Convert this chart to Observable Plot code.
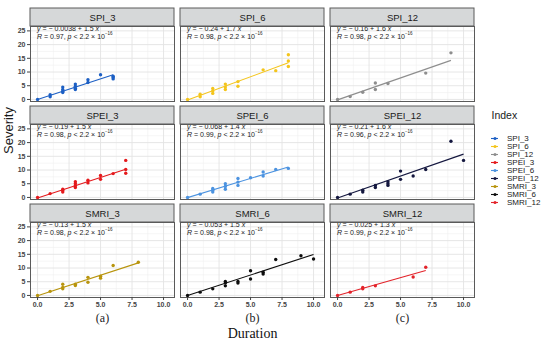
<!DOCTYPE html>
<html><head><meta charset="utf-8">
<script src="https://cdn.jsdelivr.net/npm/d3@7"></script>
<script src="https://cdn.jsdelivr.net/npm/@observablehq/plot@0.6"></script>
<style>
body{margin:0;background:#fff;}
#wrap{position:relative;width:550px;height:343px;}
#wrap svg{position:absolute;}
g[aria-label="x-axis tick label"] text, g[aria-label="y-axis tick label"] text{font-weight:bold;}
</style></head><body><div id="wrap"></div>
<script>
const indexNames = ["SPI_3","SPI_6","SPI_12","SPEI_3","SPEI_6","SPEI_12","SMRI_3","SMRI_6","SMRI_12"];
const indexColors = ["#1c5fc4","#f4c51c","#8e8e8e","#e4191c","#4c93e0","#14173f","#b8940d","#0d0d0d","#e3232a"];
const columnLabels = ["(a)","(b)","(c)"];
const rowLabels = ["SPI","SPEI","SMRI"];
const intercepts = [-0.0038,-0.24,-0.16,-0.19,-0.068,-0.21,-0.13,-0.053,-0.025];
const slopes = [1.5,1.7,1.6,1.5,1.4,1.6,1.5,1.5,1.3];
const rValues = [0.97,0.98,0.98,0.98,0.99,0.96,0.98,0.98,0.99];
const xTicks = [0,2.5,5,7.5,10];
const xMinor = [1.25,3.75,6.25,8.75];
const yTicks = [0,5,10,15,20,25];
const yMinor = [2.5,7.5,12.5,17.5,22.5];
const xDomain = [-0.56,10.87];
const yDomain = [-0.75,26.6];

const spi3Duration = [0,1,1,2,2,2,2,3,3,3,3,4,4,5,6,6,6];
const spi3Severity = [0,1.0,1.7,2.5,3.0,3.6,4.5,3.6,4.1,4.8,5.6,6.2,7.2,9.0,7.5,8.0,8.5];
const spi6Duration = [0,1,1,2,2,2,3,3,3,4,4,6,7,8,8,8];
const spi6Severity = [0,1.0,1.9,2.2,3.1,4.0,3.6,4.5,5.6,6.5,4.8,10.8,10.5,16.3,14.0,12.0];
const spi12Duration = [0,1,2,3,3,4,7,9];
const spi12Severity = [0,1.1,2.6,6.0,3.6,5.8,9.6,17.0];
const spei3Duration = [0,1,2,2,2,3,3,3,3,4,4,5,5,6,7,7,7];
const spei3Severity = [0,1.4,2.0,2.5,3.0,3.6,4.3,5.0,5.7,5.3,6.3,6.6,8.0,8.7,13.5,10.2,8.8];
const spei6Duration = [0,1,2,2,2,3,3,3,4,4,4,5,6,6,7,8];
const spei6Severity = [0,1.2,2.0,2.6,3.3,3.0,4.0,5.0,4.4,5.6,6.9,7.2,7.8,9.3,10.2,10.6];
const spei12Duration = [0,1,2,2,3,3,4,4,4,5,5,6,7,9,10];
const spei12Severity = [0,1.2,2.0,2.6,3.6,4.4,4.4,5.0,5.7,6.6,9.6,7.8,10.2,20.5,13.5];
const smri3Duration = [0,1,2,2,2,3,3,4,4,5,5,6,8];
const smri3Severity = [0,1.5,4.1,2.9,2.4,4.1,3.6,6.6,4.8,7.0,6.3,10.9,12.1];
const smri6Duration = [0,1,2,3,3,3,4,4,5,5,6,6,7,9,10];
const smri6Severity = [0,1.2,2.4,5.1,4.5,3.5,5.1,4.5,9.0,6.0,8.5,7.8,13.1,14.5,13.3];
const smri12Duration = [0,1,2,2,3,6,7];
const smri12Severity = [0,1.2,2.9,2.4,3.5,6.7,10.3];

const durationArrays = [spi3Duration,spi6Duration,spi12Duration,spei3Duration,spei6Duration,spei12Duration,smri3Duration,smri6Duration,smri12Duration];
const severityArrays = [spi3Severity,spi6Severity,spi12Severity,spei3Severity,spei6Severity,spei12Severity,smri3Severity,smri6Severity,smri12Severity];

const panels = indexNames.map((name, i) => ({
  name, col: columnLabels[i % 3], row: rowLabels[Math.floor(i / 3)],
  a: intercepts[i], b: slopes[i], r: rValues[i],
  xmin: d3.min(durationArrays[i]), xmax: d3.max(durationArrays[i])
}));
const points = panels.flatMap((p, i) => durationArrays[i].map((d, j) => ({...p, duration: d, severity: severityArrays[i][j]})));

const sans = "'Liberation Sans', Arial, sans-serif";
const serif = "'Liberation Serif', 'Times New Roman', serif";
const stripUnits = 6.56;

const chart = Plot.plot({
  width: 550, height: 343,
  marginLeft: 30, marginRight: 76, marginTop: 25, marginBottom: 46,
  style: {fontFamily: sans, fontSize: "7px", color: "#1a1a1a", background: "transparent"},
  fx: {domain: columnLabels, paddingInner: 0.04, paddingOuter: 0, axis: null},
  fy: {domain: rowLabels, paddingInner: 0.2386, paddingOuter: 0, axis: null},
  x: {domain: xDomain},
  y: {domain: yDomain},
  color: {domain: indexNames, range: indexColors},
  marks: [
    Plot.ruleX(xMinor, {stroke: "#f0f0f0", strokeWidth: 0.6}),
    Plot.ruleY(yMinor, {stroke: "#f0f0f0", strokeWidth: 0.6}),
    Plot.ruleX(xTicks, {stroke: "#e3e3e3", strokeWidth: 0.9}),
    Plot.ruleY(yTicks, {stroke: "#e3e3e3", strokeWidth: 0.9}),
    Plot.link(panels, {fx: "col", fy: "row", x1: "xmin", x2: "xmax",
      y1: d => d.a + d.b * d.xmin, y2: d => d.a + d.b * d.xmax, stroke: "name", strokeWidth: 1.1}),
    Plot.dot(points, {fx: "col", fy: "row", x: "duration", y: "severity", fill: "name", r: 1.7}),
    Plot.text(panels, {fx: "col", fy: "row", text: d => `y = − ${Math.abs(d.a)} + ${d.b} x`,
      frameAnchor: "top-left", lineAnchor: "top", textAnchor: "start", dx: 6.5, dy: 0, fontSize: 7, fill: "#1a1a1a"}),
    Plot.text(panels, {fx: "col", fy: "row", text: d => `R = ${d.r}, p < 2.2 × 10^−16`,
      frameAnchor: "top-left", lineAnchor: "top", textAnchor: "start", dx: 6.5, dy: 7.3, fontSize: 7, fill: "#1a1a1a"}),
    Plot.frame({stroke: "#5a5a5a", strokeWidth: 1}),
    Plot.rect(panels, {fx: "col", fy: "row", x1: xDomain[0], x2: xDomain[1], y1: yDomain[1], y2: yDomain[1] + stripUnits,
      fill: "#d6d8d9", stroke: "#5a5a5a", strokeWidth: 1}),
    Plot.text(panels, {fx: "col", fy: "row", text: "name", frameAnchor: "top", lineAnchor: "middle", dy: -9,
      fontSize: 9.5, fill: "#1a1a1a"}),
    Plot.axisX({ticks: xTicks, tickFormat: d => d.toFixed(1), tickSize: 3, tickPadding: 2, fontSize: 7, label: null, color: "#444"}),
    Plot.axisY({ticks: yTicks, tickSize: 3, tickPadding: 2, fontSize: 7, label: null, color: "#444"}),
    Plot.text(columnLabels, {fx: d => d, fy: () => "SMRI", text: d => d, frameAnchor: "bottom", lineAnchor: "middle",
      dy: 21, fontFamily: serif, fontSize: 12, fill: "#222"}),
    Plot.text(["Duration"], {fx: () => "(b)", fy: () => "SMRI", text: d => d, frameAnchor: "bottom", lineAnchor: "middle",
      dy: 36, fontFamily: serif, fontSize: 14, fill: "#111"}),
    Plot.text(["Severity"], {fx: () => "(a)", fy: () => "SPEI", text: d => d, frameAnchor: "left", rotate: -90,
      dx: -22, dy: -8, fontSize: 13, fill: "#1a1a1a"})
  ]
});

chart.querySelectorAll("text").forEach(t => {
  const s = t.textContent;
  if (s.startsWith("y = ")) {
    t.innerHTML = '<tspan font-style="italic">y</tspan>' + s.slice(1, -1) + '<tspan font-style="italic">x</tspan>';
  } else if (s.startsWith("R = ")) {
    const m = s.match(/^R = ([\d.]+), p < 2\.2 × 10\^(.+)$/);
    if (m) t.innerHTML = `<tspan font-style="italic">R</tspan> = ${m[1]}, <tspan font-style="italic">p</tspan> &lt; 2.2 × 10<tspan dy="-4" font-size="4.5">${m[2]}</tspan>`;
  }
});

const legend = Plot.plot({
  width: 62, height: 112, marginLeft: 0, marginRight: 0, marginTop: 26, marginBottom: 6,
  style: {fontFamily: sans, background: "transparent", color: "#1a1a1a"},
  x: {domain: [0, 1], range: [3, 10], axis: null},
  y: {type: "point", domain: indexNames, axis: null},
  color: {domain: indexNames, range: indexColors},
  marks: [
    Plot.text(["Index"], {text: d => d, frameAnchor: "top-left", lineAnchor: "top", textAnchor: "start", dx: 3, dy: -19, fontSize: 10.5, fill: "#1a1a1a"}),
    Plot.ruleY(indexNames, {y: d => d, x1: 0, x2: 1, stroke: d => d, strokeWidth: 1.1}),
    Plot.dot(indexNames, {y: d => d, x: 0.5, fill: d => d, r: 1.5}),
    Plot.text(indexNames, {y: d => d, text: d => d, frameAnchor: "left", textAnchor: "start", dx: 18.5, fontSize: 8, fill: "#1a1a1a"})
  ]
});

const wrap = document.getElementById("wrap");
chart.style.left = "0px"; chart.style.top = "0px";
legend.style.left = "488px"; legend.style.top = "104px";
wrap.appendChild(chart);
wrap.appendChild(legend);
</script>
</body></html>
